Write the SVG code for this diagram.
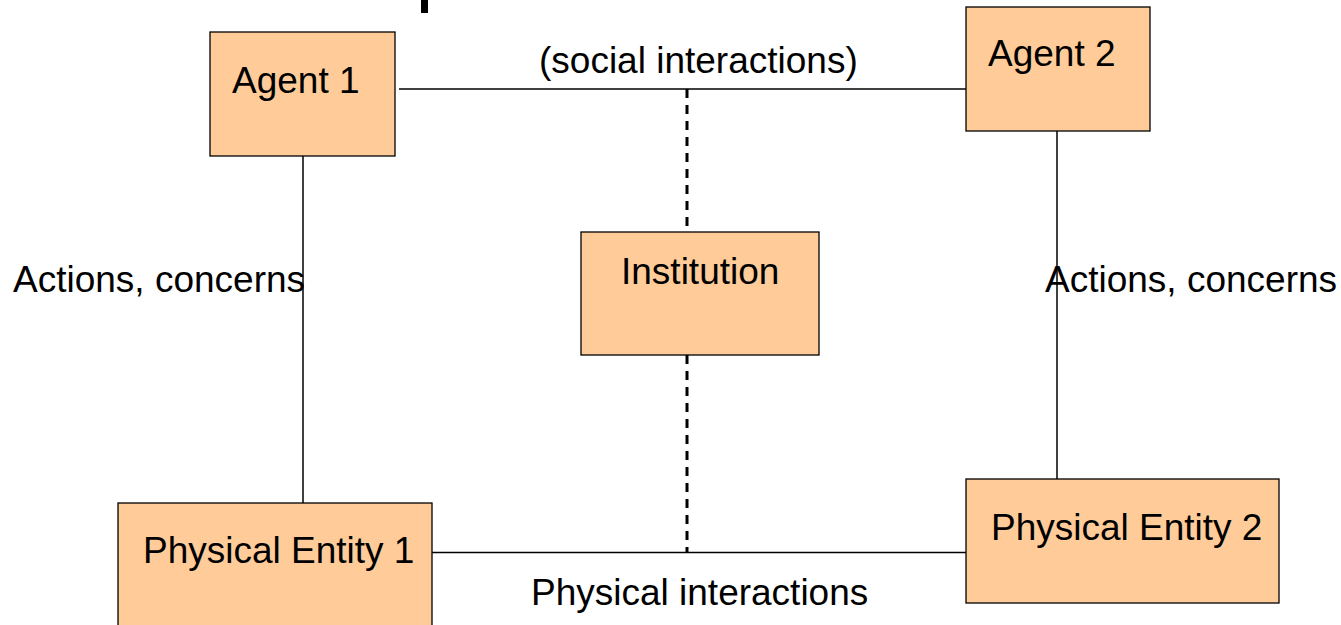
<svg xmlns="http://www.w3.org/2000/svg" width="1341" height="625" viewBox="0 0 1341 625">
<style>
.box{fill:#FFCC99;stroke:#000;stroke-width:1.3}
.t{font-family:"Liberation Sans",Arial,sans-serif;font-size:37px;fill:#000}
.ln{stroke:#000;stroke-width:1.5;fill:none}
.ds{stroke:#000;stroke-width:3;fill:none;stroke-dasharray:9 7}
</style>
<rect x="0" y="0" width="1341" height="625" fill="#fff"/>
<rect x="421" y="0" width="7" height="13" fill="#000"/>
<g id="connectors">
<line class="ln" x1="399" y1="89" x2="966" y2="89"/>
<line class="ln" x1="303" y1="156" x2="303" y2="503"/>
<line class="ln" x1="1057" y1="131" x2="1057" y2="479"/>
<line class="ln" x1="432" y1="552.5" x2="966" y2="552.5"/>
<line class="ds" x1="687" y1="89" x2="687" y2="232"/>
<line class="ds" x1="687" y1="355" x2="687" y2="552"/>
<text class="t" x="539" y="73">(social interactions)</text>
<text class="t" x="531" y="605">Physical interactions</text>
<text class="t" x="13" y="292">Actions, concerns</text>
<text class="t" x="1045" y="292">Actions, concerns</text>
</g>
<g id="agent1"><rect class="box" x="210" y="32" width="185" height="124"/><text class="t" x="232" y="93">Agent 1</text></g>
<g id="agent2"><rect class="box" x="966" y="7" width="184" height="124"/><text class="t" x="988" y="66">Agent 2</text></g>
<g id="institution"><rect class="box" x="581" y="232" width="238" height="123"/><text class="t" x="621" y="284">Institution</text></g>
<g id="entity1"><rect class="box" x="118" y="503" width="314" height="130"/><text class="t" x="143" y="563">Physical Entity 1</text></g>
<g id="entity2"><rect class="box" x="966" y="479" width="313" height="124"/><text class="t" x="991" y="540">Physical Entity 2</text></g>
</svg>
